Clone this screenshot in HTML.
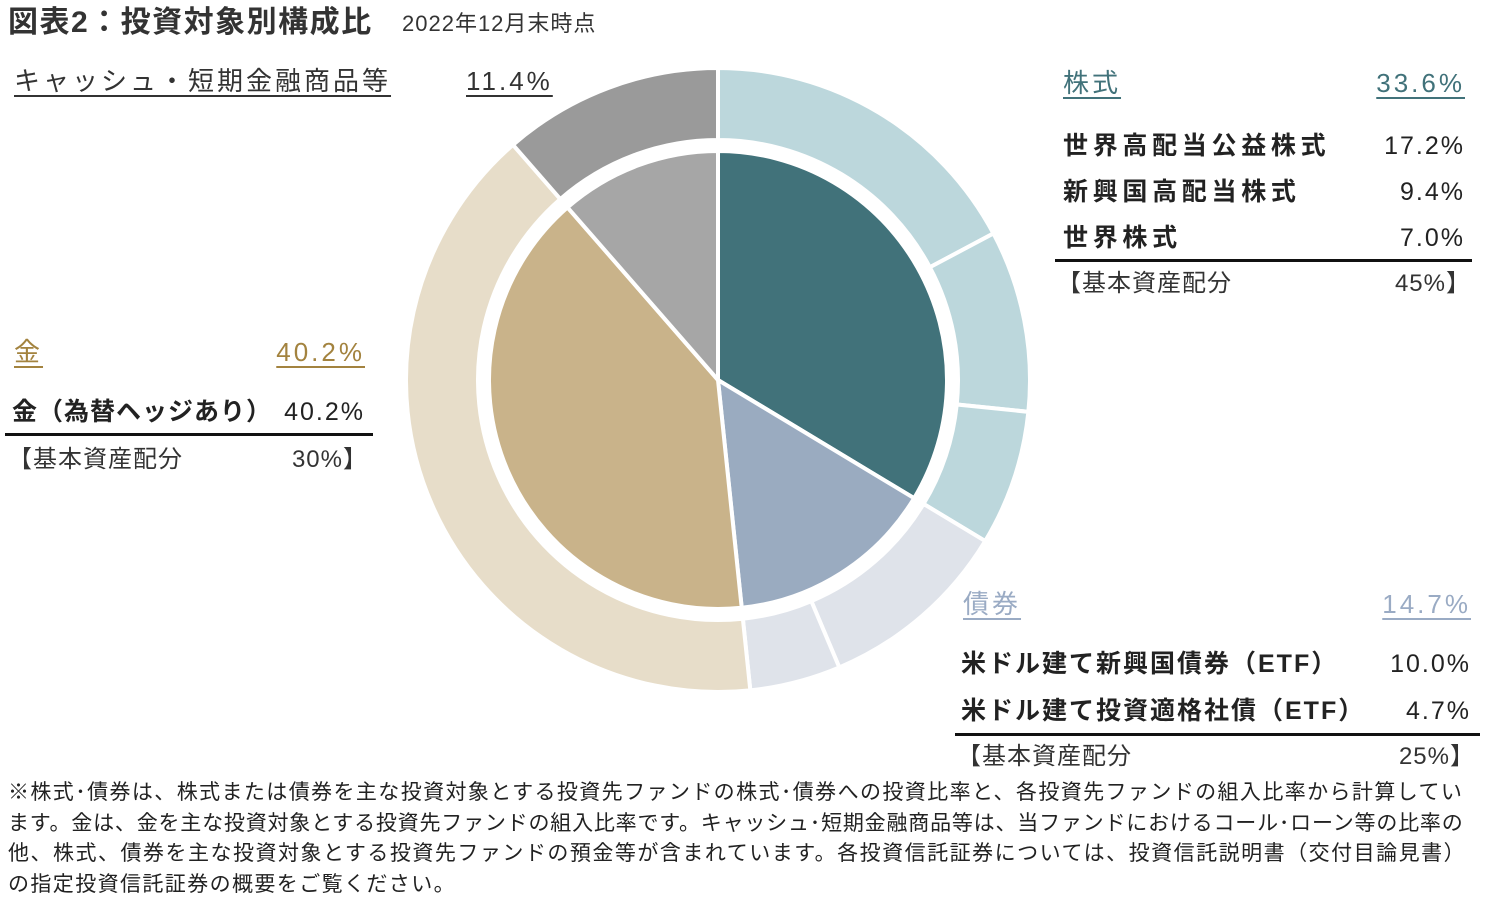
<!DOCTYPE html>
<html><head><meta charset="utf-8">
<style>
body{margin:0;width:1485px;height:895px;background:#fff;position:relative;overflow:hidden;font-family:"Liberation Sans","Noto Sans CJK JP",sans-serif;color:#222}
.t{position:absolute;white-space:nowrap;line-height:1}
.h{font-size:26px;letter-spacing:3px;text-decoration:underline;text-underline-offset:5px;text-decoration-thickness:2px}
.r{font-size:25px;font-weight:bold;letter-spacing:4.7px}
.v{font-size:25px;letter-spacing:2px;text-align:right}
.b{font-size:24px;letter-spacing:1px;color:#333}
.ln{position:absolute;height:3px;background:#111}
.fn{font-size:21px;letter-spacing:1.4px;color:#222}
.fn span{display:block}
</style></head><body>
<div class="t" style="left:8px;top:8px;font-size:30px;font-weight:bold;color:#333;letter-spacing:1.5px">図表2：投資対象別構成比</div>
<div class="t" style="left:402px;top:13px;font-size:22px;color:#333;letter-spacing:1px">2022年12月末時点</div>

<svg id="pie" width="1485" height="895" style="position:absolute;left:0;top:0"></svg>

<div class="t h" style="left:14px;top:68px;color:#333">キャッシュ・短期金融商品等</div>
<div class="t h" style="left:466px;top:68px;color:#333">11.4%</div>

<div class="t h" style="left:1063px;top:70px;color:#41727a">株式</div>
<div class="t h" style="right:20px;top:70px;color:#41727a">33.6%</div>
<div class="t r" style="left:1063px;top:134px">世界高配当公益株式</div>
<div class="t v" style="right:20px;top:134px">17.2%</div>
<div class="t r" style="left:1063px;top:180px">新興国高配当株式</div>
<div class="t v" style="right:20px;top:180px">9.4%</div>
<div class="t r" style="left:1063px;top:226px">世界株式</div>
<div class="t v" style="right:20px;top:226px">7.0%</div>
<div class="ln" style="left:1055px;top:259px;width:417px"></div>
<div class="t b" style="left:1057px;top:272px">【基本資産配分</div>
<div class="t b" style="right:14px;top:272px">45%】</div>

<div class="t h" style="left:14px;top:339px;color:#a3833f">金</div>
<div class="t h" style="right:1120px;top:339px;color:#a3833f">40.2%</div>
<div class="t r" style="left:12px;top:400px;letter-spacing:1px">金（為替ヘッジあり）</div>
<div class="t v" style="right:1120px;top:400px">40.2%</div>
<div class="ln" style="left:5px;top:433px;width:368px"></div>
<div class="t b" style="left:8px;top:448px">【基本資産配分</div>
<div class="t b" style="right:1117px;top:448px">30%】</div>

<div class="t h" style="left:963px;top:591px;color:#9aabc4">債券</div>
<div class="t h" style="right:14px;top:591px;color:#9aabc4">14.7%</div>
<div class="t r" style="left:961px;top:652px;letter-spacing:2px">米ドル建て新興国債券（ETF）</div>
<div class="t v" style="right:14px;top:652px">10.0%</div>
<div class="t r" style="left:961px;top:699px;letter-spacing:2px">米ドル建て投資適格社債（ETF）</div>
<div class="t v" style="right:14px;top:699px">4.7%</div>
<div class="ln" style="left:955px;top:733px;width:525px"></div>
<div class="t b" style="left:957px;top:745px">【基本資産配分</div>
<div class="t b" style="right:10px;top:745px">25%】</div>

<div class="t fn" style="left:8px;top:778px;line-height:30.5px"><span style="letter-spacing:1.4px">※株式･債券は、株式または債券を主な投資対象とする投資先ファンドの株式･債券への投資比率と、各投資先ファンドの組入比率から計算してい</span><span style="letter-spacing:0.8px">ます。金は、金を主な投資対象とする投資先ファンドの組入比率です。キャッシュ･短期金融商品等は、当ファンドにおけるコール･ローン等の比率の</span><span style="letter-spacing:1.5px">他、株式、債券を主な投資対象とする投資先ファンドの預金等が含まれています。各投資信託証券については、投資信託説明書（交付目論見書）</span><span>の指定投資信託証券の概要をご覧ください。</span></div>

<script>
const innerNames=["stocks","bonds","gold","cash"];
const innerValues=[33.6,14.7,40.2,11.4];
const innerColors=["#41727a","#9aabc0","#c9b38a","#a6a6a6"];
const outerNames=["world-high-div-utility","em-high-div","world-stock","usd-em-bond","usd-ig-corp","gold-hedged","cash"];
const outerValues=[17.2,9.4,7.0,10.0,4.7,40.2,11.4];
const outerColors=["#bcd7dc","#bcd7dc","#bcd7dc","#dfe3ea","#dfe3ea","#e7ddc9","#9a9a9a"];
const cx=718,cy=380,rIn=229,rO1=240,rO2=312;
const svg=document.getElementById('pie');
function pt(r,a){const t=a*Math.PI/180;return [cx+r*Math.sin(t),cy-r*Math.cos(t)];}
function arc(r0,r1,a0,a1){
  const lg=(a1-a0)>180?1:0;
  const [x1,y1]=pt(r1,a0),[x2,y2]=pt(r1,a1);
  if(r0===0)return `M${cx},${cy}L${x1},${y1}A${r1},${r1} 0 ${lg} 1 ${x2},${y2}Z`;
  const [x3,y3]=pt(r0,a1),[x4,y4]=pt(r0,a0);
  return `M${x1},${y1}A${r1},${r1} 0 ${lg} 1 ${x2},${y2}L${x3},${y3}A${r0},${r0} 0 ${lg} 0 ${x4},${y4}Z`;
}
function draw(vals,cols,names,r0,r1,prefix){
  const tot=vals.reduce((a,b)=>a+b,0);let a=0;
  vals.forEach((v,i)=>{
    const a1=a+v/tot*360;
    const p=document.createElementNS('http://www.w3.org/2000/svg','path');
    p.setAttribute('d',arc(r0,r1,a,a1));
    p.setAttribute('fill',cols[i]);p.setAttribute('stroke','#fff');p.setAttribute('stroke-width','4');
    
    
    svg.appendChild(p);a=a1;
  });
}
draw(outerValues,outerColors,outerNames,rO1,rO2,'outer');
draw(innerValues,innerColors,innerNames,0,rIn,'inner');
</script>
</body></html>
